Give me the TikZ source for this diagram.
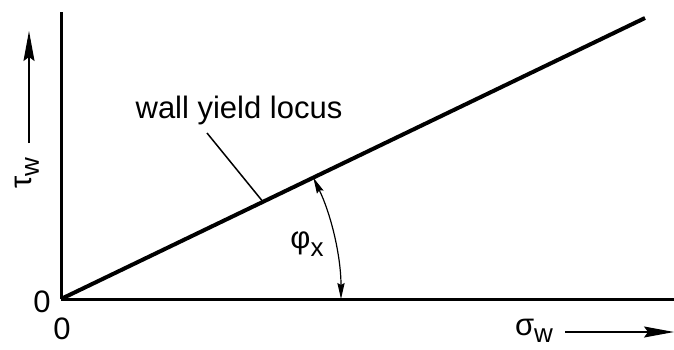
\documentclass[tikz,border=0pt]{standalone}
\usepackage{fontspec}
\setmainfont{Liberation Sans}
\usetikzlibrary{arrows.meta}
\newcommand{\lbl}[2]{#1\raisebox{-0.45ex}{\fontsize{13}{15}\selectfont #2}}
\begin{document}
\begin{tikzpicture}[x=0.5pt, y=0.5pt, line cap=butt, line join=round, font=\fontsize{15.5}{18}\selectfont,
	axis/.style={line width=1.5pt},
	bigarrow/.style={-{Stealth[length=15pt,width=5.5pt,inset=2pt]}, line width=0.6pt},
	smallarrow/.style={{Stealth[length=8pt,width=3.6pt,inset=1pt]}-{Stealth[length=8pt,width=3.6pt,inset=1pt]}, line width=0.6pt}]
	\useasboundingbox (0,0) rectangle (674,349);
	% Tham số: góc của đường giới hạn chảy
	\pgfmathsetmacro{\ang}{atan(281/584)}
	\pgfmathsetmacro{\yP}{50+202/584*281}
	\def\rarc{280}
	
	% Các điểm chính
	\coordinate (O) at (61,50);
	\coordinate (Ytop) at (61,337);
	\coordinate (Xend) at (674,50);
	\coordinate (L) at (645,331);
	\coordinate (P) at (263,\yP);
	\coordinate (Q) at (207,216);
	
	% Trục tọa độ
	\draw[axis] (O) -- (Ytop);
	\draw[axis] (O) -- (Xend);
	
	% Đường giới hạn chảy của thành
	\draw[line width=2pt] (O) -- (L);
	
	% Nhãn và đường dẫn
	\node (locus) at (239,239) {wall yield locus};
	\draw[line width=0.75pt] (Q) -- (P);
	
	% Góc phi_x
	\draw[smallarrow] ([shift={(O)}]0:\rarc) arc[start angle=0, end angle=\ang, radius=\rarc];
	\node (phi) at (307,105) {\lbl{φ}{x}};
	
	% Mũi tên chỉ chiều trục
	\coordinate (Ta) at (29,206);
	\coordinate (Tb) at (29,318);
	\draw[bigarrow] (Ta) -- (Tb);
	\node[rotate=90] (tau) at (27,176) {\lbl{τ}{w}};
	\coordinate (Sa) at (565,17);
	\coordinate (Sb) at (674,17);
	\draw[bigarrow] (Sa) -- (Sb);
	\node (sigma) at (534,18) {\lbl{σ}{w}};
	
	% Gốc tọa độ
	\node (zeroy) at (42,47) {0};
	\node (zerox) at (62,20) {0};
\end{tikzpicture}
\end{document}
